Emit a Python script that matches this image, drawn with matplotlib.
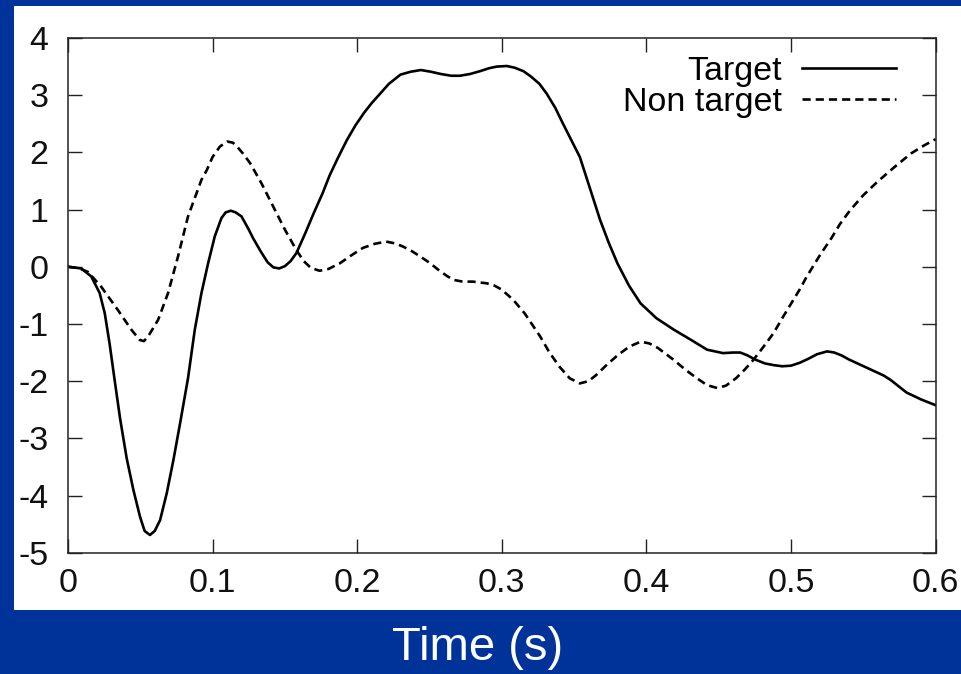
import matplotlib
matplotlib.use("Agg")
import matplotlib.pyplot as plt
from matplotlib.patches import Rectangle

# values
target_t = [0, 0.0092, 0.0161, 0.0219, 0.0254, 0.0288, 0.0318, 0.036, 0.0406, 0.0452,
            0.0498, 0.053, 0.0567, 0.06, 0.0637, 0.0683, 0.0729, 0.0775, 0.083, 0.0877,
            0.0923, 0.0969, 0.1015, 0.1061, 0.109, 0.1126, 0.116, 0.12, 0.1246, 0.128,
            0.133, 0.138, 0.142, 0.146, 0.15, 0.154, 0.158, 0.164, 0.17, 0.176,
            0.181, 0.187, 0.193, 0.199, 0.205, 0.21, 0.216, 0.222, 0.23, 0.237,
            0.244, 0.251, 0.258, 0.265, 0.271, 0.278, 0.285, 0.291, 0.2965, 0.3036,
            0.309, 0.315, 0.32, 0.326, 0.331, 0.337, 0.342, 0.348, 0.354, 0.36,
            0.368, 0.374, 0.38, 0.388, 0.396, 0.407, 0.419, 0.431, 0.442, 0.453,
            0.46, 0.465, 0.47, 0.475, 0.482, 0.488, 0.494, 0.5, 0.506, 0.512,
            0.518, 0.525, 0.53, 0.535, 0.54, 0.546, 0.552, 0.558, 0.564, 0.569,
            0.575, 0.58, 0.585, 0.59, 0.595, 0.6]
target_v = [0, -0.03, -0.17, -0.46, -0.81, -1.35, -1.9, -2.65, -3.35, -3.9,
            -4.37, -4.62, -4.69, -4.62, -4.43, -3.96, -3.38, -2.74, -1.95, -1.1,
            -0.46, 0.06, 0.53, 0.85, 0.95, 0.98, 0.95, 0.88, 0.67, 0.5,
            0.28, 0.08, -0.01, -0.03, 0.01, 0.1, 0.24, 0.58, 0.94, 1.28,
            1.6, 1.92, 2.22, 2.48, 2.7, 2.86, 3.03, 3.2, 3.36, 3.41,
            3.44, 3.41, 3.37, 3.34, 3.34, 3.37, 3.42, 3.47, 3.5, 3.51,
            3.48, 3.42, 3.33, 3.2, 3.03, 2.78, 2.52, 2.22, 1.92, 1.45,
            0.82, 0.42, 0.06, -0.33, -0.64, -0.9, -1.1, -1.28, -1.45, -1.51,
            -1.5, -1.5, -1.55, -1.62, -1.69, -1.72, -1.74, -1.73, -1.68, -1.61,
            -1.53, -1.48, -1.5, -1.55, -1.62, -1.69, -1.76, -1.83, -1.9, -1.98,
            -2.1, -2.2, -2.26, -2.32, -2.37, -2.42]

nontarget_t = [0, 0.0069, 0.0138, 0.023, 0.0346, 0.0438, 0.0496, 0.0525, 0.0554, 0.0623,
               0.0692, 0.0761, 0.083, 0.0923, 0.096, 0.1, 0.105, 0.11, 0.114, 0.117,
               0.121, 0.126, 0.134, 0.142, 0.15, 0.158, 0.163, 0.168, 0.174, 0.18,
               0.188, 0.196, 0.204, 0.212, 0.22, 0.226, 0.232, 0.238, 0.2436, 0.25,
               0.256, 0.262, 0.2667, 0.273, 0.28, 0.2897, 0.295, 0.3, 0.308, 0.316,
               0.3266, 0.333, 0.34, 0.347, 0.354, 0.36, 0.365, 0.372, 0.38, 0.388,
               0.396, 0.402, 0.408, 0.419, 0.427, 0.435, 0.442, 0.449, 0.455, 0.462,
               0.468, 0.474, 0.481, 0.488, 0.494, 0.5, 0.506, 0.511, 0.52, 0.528,
               0.534, 0.541, 0.55, 0.56, 0.571, 0.583, 0.592, 0.6]
nontarget_v = [0, -0.02, -0.09, -0.35, -0.76, -1.1, -1.28, -1.3, -1.22, -0.93,
               -0.46, 0.18, 0.88, 1.52, 1.69, 1.92, 2.1, 2.19, 2.17, 2.1,
               1.98, 1.81, 1.45, 1.05, 0.65, 0.29, 0.1, -0.02, -0.07, -0.04,
               0.06, 0.2, 0.33, 0.4, 0.44, 0.41, 0.35, 0.27, 0.18, 0.07,
               -0.05, -0.16, -0.23, -0.26, -0.26, -0.29, -0.33, -0.4, -0.58, -0.82,
               -1.22, -1.5, -1.75, -1.95, -2.04, -2.0, -1.9, -1.73, -1.55, -1.4,
               -1.31, -1.34, -1.42, -1.63, -1.8, -1.95, -2.07, -2.12, -2.08, -1.95,
               -1.8, -1.63, -1.4, -1.16, -0.9, -0.65, -0.4, -0.17, 0.2, 0.5,
               0.75, 0.99, 1.25, 1.49, 1.73, 1.98, 2.12, 2.23]

x_ticks = [0, 0.1, 0.2, 0.3, 0.4, 0.5, 0.6]
x_labels = ["0", "0.1", "0.2", "0.3", "0.4", "0.5", "0.6"]
y_ticks = [-5, -4, -3, -2, -1, 0, 1, 2, 3, 4]

plt.rcParams["font.family"] = ["Liberation Sans", "DejaVu Sans"]
plt.rcParams["axes.unicode_minus"] = False

W, H = 961, 674
fig = plt.figure(figsize=(W / 100, H / 100), dpi=100, facecolor="#003399")

# white slide panel behind the plot
fig.patches.append(Rectangle((14 / W, 1 - 610 / H), 1, (610 - 6) / H,
                             transform=fig.transFigure, facecolor="white",
                             edgecolor="none", zorder=-5))

ax = fig.add_axes([68 / W, 1 - 552.7 / H, (935.5 - 68) / W, (552.7 - 38) / H])
ax.set_facecolor("white")

ax.plot(target_t, target_v, color="black", lw=1.9, label="Target",
        solid_joinstyle="round")
ax.plot(nontarget_t, nontarget_v, color="black", lw=1.9, ls=(0, (3.1, 1.9)),
        label="Non target", dash_joinstyle="round")

ax.set_xlim(0, 0.6)
ax.set_ylim(-5, 4)
ax.set_xticks(x_ticks)
ax.set_xticklabels(x_labels)
ax.set_yticks(y_ticks)
ax.tick_params(direction="in", length=10, width=1, top=True, right=True,
               labelsize=24.5, labelcolor="#111111", color="#222222")
ax.tick_params(axis="y", pad=14)
ax.tick_params(axis="x", pad=11)
for s in ax.spines.values():
    s.set_linewidth(1.1)
    s.set_color("#222222")

ax.legend(loc="upper right", bbox_to_anchor=((896 - 68) / 867.5, 0.965),
          frameon=False, markerfirst=False, fontsize=24.5,
          handlelength=2.75, handletextpad=0.6, labelspacing=0.0,
          borderpad=0.0, borderaxespad=0.0)

fig.text(478 / W, 1 - 648 / H, "Time (s)", color="white", fontsize=34,
         ha="center", va="center")

fig.savefig("out.png", dpi=100, facecolor=fig.get_facecolor())
